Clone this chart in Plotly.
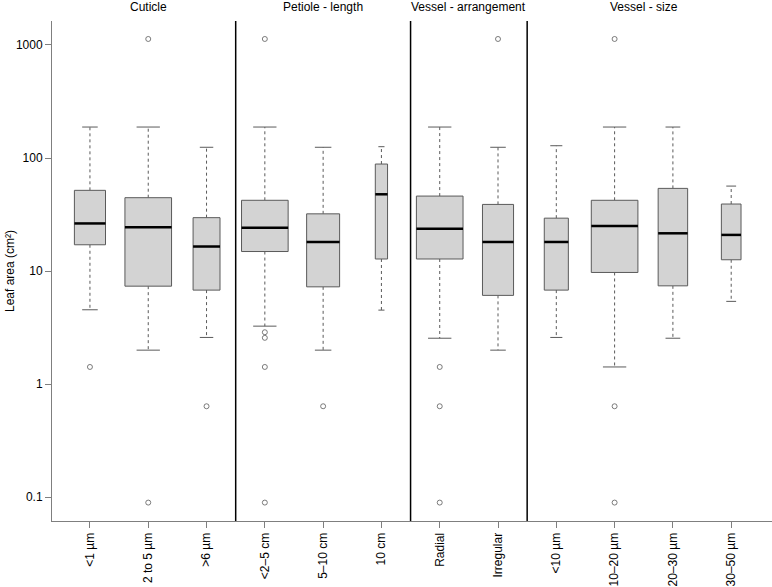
import math
import plotly.graph_objects as go

# ---------------- data ----------------
categories = ["<1 µm", "2 to 5 µm", ">6 µm",
              "<2–5 cm", "5–10 cm", "10 cm",
              "Radial", "Irregular",
              "<10 µm", "10–20 µm", "20–30 µm", "30–50 µm"]
panels = ["Cuticle", "Petiole - length", "Vessel - arrangement", "Vessel - size"]
panel_sizes = [3, 3, 2, 4]
sample_n = [20, 45, 15, 58, 29, 4, 45, 20, 12, 45, 18, 8]
lower_whisker = [4.55, 2.0, 2.59, 3.26, 2.0, 4.52, 2.55, 2.0, 2.59, 1.42, 2.55, 5.40]
q1 = [17.1, 7.36, 6.79, 14.9, 7.26, 12.8, 12.8, 6.10, 6.79, 9.73, 7.41, 12.6]
median = [26.4, 24.4, 16.5, 24.2, 18.1, 47.8, 23.7, 18.1, 18.1, 25.0, 21.6, 20.9]
q3 = [51.8, 44.6, 29.7, 42.3, 32.1, 88.5, 46.1, 38.9, 29.4, 42.3, 53.9, 39.2]
upper_whisker = [188, 188, 124.5, 188, 124.5, 126, 188, 124.5, 128.5, 188, 188, 56.5]
outliers = [[1.42], [1130, 0.0897], [0.638],
            [1130, 2.88, 2.57, 1.42, 0.0897], [0.638], [],
            [1.42, 0.638, 0.0897], [1130],
            [], [1130, 0.638, 0.0897], [], []]
y_tick_vals = [0.1, 1, 10, 100, 1000]
y_tick_text = ["0.1", "1", "10", "100", "1000"]
y_title = "Leaf area (cm²)"

# ---------------- geometry from data ----------------
pos = list(range(1, len(categories) + 1))
widths = []
start = 0
for size in panel_sizes:
    nmax = max(sample_n[start:start + size])
    for i in range(start, start + size):
        widths.append(0.8 * math.sqrt(sample_n[i] / nmax))
    start += size

BOXC = "#5a5a5a"
FONT = "Liberation Sans, Arial, Helvetica, sans-serif"

bx, by, mx, my, wx, wy, cx, cy, ox, oy = ([] for _ in range(10))
for i, c in enumerate(pos):
    h = widths[i] / 2
    bx += [c - h, c + h, c + h, c - h, c - h, None]
    by += [q1[i], q1[i], q3[i], q3[i], q1[i], None]
    mx += [c - h, c + h, None]
    my += [median[i], median[i], None]
    wx += [c, c, None, c, c, None]
    wy += [q3[i], upper_whisker[i], None, q1[i], lower_whisker[i], None]
    cx += [c - h / 2, c + h / 2, None, c - h / 2, c + h / 2, None]
    cy += [upper_whisker[i], upper_whisker[i], None, lower_whisker[i], lower_whisker[i], None]
    for v in outliers[i]:
        ox.append(c)
        oy.append(v)

fig = go.Figure()
fig.add_trace(go.Scatter(x=wx, y=wy, mode="lines", line=dict(color=BOXC, width=1, dash="3px,3px"),
                         hoverinfo="skip", showlegend=False))
fig.add_trace(go.Scatter(x=cx, y=cy, mode="lines", line=dict(color=BOXC, width=1),
                         hoverinfo="skip", showlegend=False))
fig.add_trace(go.Scatter(x=bx, y=by, mode="lines", fill="toself", fillcolor="#d3d3d3",
                         line=dict(color=BOXC, width=1), hoverinfo="skip", showlegend=False))
fig.add_trace(go.Scatter(x=mx, y=my, mode="lines", line=dict(color="black", width=2.5),
                         hoverinfo="skip", showlegend=False))
fig.add_trace(go.Scatter(x=ox, y=oy, mode="markers",
                         marker=dict(symbol="circle-open", size=5, color=BOXC, line=dict(width=0.8)),
                         hoverinfo="skip", showlegend=False))

# panel separators and titles
start = 0
for k, size in enumerate(panel_sizes):
    centre = sum(pos[start:start + size]) / size
    fig.add_annotation(x=centre, y=1, xref="x", yref="paper", text=panels[k], showarrow=False,
                       yanchor="middle", yshift=14, font=dict(size=12, color="black", family=FONT))
    if k > 0:
        sep = pos[start] - 0.5
        fig.add_shape(type="line", x0=sep, x1=sep, y0=0, y1=1, xref="x", yref="paper",
                      line=dict(color="black", width=1.5))
    start += size

# y-axis title
fig.add_annotation(x=0, y=0.5, xref="paper", yref="paper", text=y_title, showarrow=False,
                   textangle=-90, xanchor="center", yanchor="middle", xshift=-42,
                   font=dict(size=12, color="black", family=FONT))

fig.update_layout(
    width=772, height=587, template="none",
    margin=dict(l=52, r=0, t=21, b=66),
    paper_bgcolor="white", plot_bgcolor="white",
    font=dict(family=FONT, size=12, color="black"),
    xaxis=dict(range=[0.349, 12.70], tickmode="array", tickvals=pos, ticktext=categories,
               tickangle=-90, ticks="outside", ticklen=6, tickcolor="#7f7f7f",
               showline=True, linecolor="#7f7f7f", linewidth=1, showgrid=False, zeroline=False,
               automargin=False, tickfont=dict(size=12)),
    yaxis=dict(type="log", range=[-1.210, 3.212], tickmode="array", tickvals=y_tick_vals,
               ticktext=y_tick_text, ticks="outside", ticklen=6, tickcolor="#7f7f7f",
               showline=True, linecolor="#7f7f7f", linewidth=1, showgrid=False, zeroline=False,
               automargin=False, tickfont=dict(size=12)),
)

fig.write_html("out.html", config={"displayModeBar": False},
               post_script="document.body.style.margin='0';document.body.style.overflow='hidden';")
